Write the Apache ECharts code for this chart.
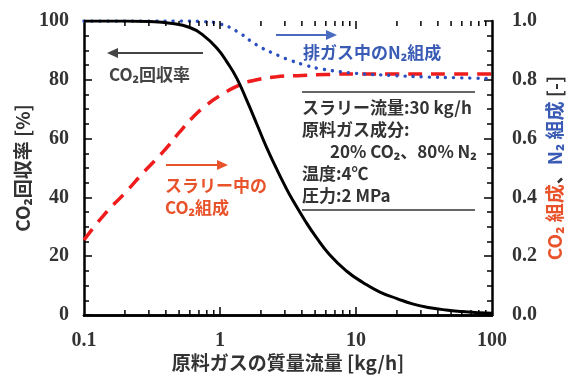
<!DOCTYPE html>
<html><head><meta charset="utf-8">
<script src="https://cdn.jsdelivr.net/npm/echarts@6/dist/echarts.min.js"></script>
<style>html,body{margin:0;padding:0;background:#fff}#c{width:570px;height:375px}</style>
</head><body><div id="c"></div>
<script>
// CO2 recovery [%] (left axis) vs feed gas mass flow [kg/h]
const recoveryX = [0.1, 0.2, 0.3, 0.43, 0.6, 0.75, 0.95, 1.12, 1.33, 1.58, 1.87, 2.2, 2.62, 3.0, 3.43, 4.3, 5.0, 6.4, 8.6, 11.3, 15, 20, 26, 35, 46, 60, 81, 100];
const recoveryY = [100, 100, 99.8, 99.2, 97.8, 95.2, 90.7, 86.2, 80.5, 72.8, 64.8, 57, 49.5, 44, 39, 31.5, 27, 20.5, 14.8, 11, 7.8, 5.6, 3.8, 2.5, 1.7, 1.2, 0.8, 0.6];
// CO2 composition in slurry [-] (right axis)
const slurryX = [0.1, 0.14, 0.2, 0.28, 0.39, 0.5, 0.63, 0.8, 1.05, 1.3, 1.66, 2.6, 4, 6, 10, 20, 50, 100];
const slurryCO2 = [0.255, 0.34, 0.415, 0.49, 0.56, 0.62, 0.672, 0.715, 0.752, 0.776, 0.795, 0.81, 0.815, 0.818, 0.82, 0.82, 0.82, 0.82];
// N2 composition in exhaust gas [-] (right axis)
const gasX = [0.1, 0.3, 0.5, 0.75, 1.0, 1.33, 1.87, 2.76, 3.3, 4.3, 5.7, 10, 18, 31, 55, 100];
const gasN2 = [1.0, 1.0, 1.0, 0.998, 0.99, 0.965, 0.918, 0.88, 0.866, 0.849, 0.836, 0.822, 0.815, 0.81, 0.807, 0.804];
// log x-axis ticks
const xMajorTicks = [1, 10];
const xMinorTicks = [0.2, 0.3, 0.4, 0.5, 0.6, 0.7, 0.8, 0.9, 2, 3, 4, 5, 6, 7, 8, 9, 20, 30, 40, 50, 60, 70, 80, 90];

const JP = '"Noto Sans CJK JP", "Noto Sans", sans-serif';
const SERIF = '"Liberation Serif", "DejaVu Serif", serif';
const RED_TXT = '#e8532b', BLUE_TXT = '#3a5bb5';

const chart = echarts.init(document.getElementById('c'));
const pair = (xs, ys) => xs.map((x, i) => [x, ys[i]]);
const tickData = xMajorTicks.map(v => [v, 0, 1]).concat(xMinorTicks.map(v => [v, 0, 0]));

function arrow(x1, x2, y, color) {
  const dir = x2 > x1 ? 1 : -1;
  return [
    {type: 'line', shape: {x1: x1, y1: y, x2: x2 - dir * 8, y2: y}, style: {stroke: color, lineWidth: 2}},
    {type: 'polygon', shape: {points: [[x2, y], [x2 - dir * 11, y - 5], [x2 - dir * 11, y + 5]]}, style: {fill: color}}
  ];
}
function txt(x, y, text, color, size, align) {
  return {type: 'text', x: x, y: y, style: {text: text, fill: color, font: 'bold ' + size + 'px ' + JP, verticalAlign: 'middle', align: align || 'left'}};
}

const axisLineStyle = {show: true, lineStyle: {color: '#000', width: 2.5}};
const option = {
  animation: false,
  backgroundColor: '#fff',
  grid: {left: 84, right: 78, top: 21, bottom: 60, containLabel: false, outerBoundsMode: 'none'},
  xAxis: [{
    type: 'log', min: 0.1, max: 100, logBase: 10,
    axisLine: axisLineStyle, axisTick: {show: false}, splitLine: {show: false},
    axisLabel: {margin: 16, color: '#333', fontFamily: SERIF, fontWeight: 'bold', fontSize: 20, formatter: v => String(v)},
    name: '原料ガスの質量流量 [kg/h]', nameLocation: 'middle', nameGap: 38, nameMoveOverlap: false,
    nameTextStyle: {fontFamily: JP, fontWeight: 'bold', fontSize: 19, color: '#333'}
  }, {
    type: 'log', min: 0.1, max: 100, position: 'top',
    axisLine: axisLineStyle, axisTick: {show: false}, axisLabel: {show: false}, splitLine: {show: false}
  }],
  yAxis: [{
    type: 'value', min: 0, max: 100, interval: 20, position: 'left',
    axisLine: axisLineStyle,
    axisTick: {show: true, inside: true, length: 8, lineStyle: {color: '#000', width: 1.5}},
    minorTick: {show: true, splitNumber: 4, length: 5, lineStyle: {color: '#000', width: 1.5}},
    splitLine: {show: false},
    axisLabel: {margin: 15, color: '#333', fontFamily: SERIF, fontWeight: 'bold', fontSize: 20},
    name: 'CO₂回収率 [%]', nameLocation: 'middle', nameGap: 52, nameRotate: 90, nameMoveOverlap: false,
    nameTextStyle: {fontFamily: JP, fontWeight: 'bold', fontSize: 19, color: '#333'}
  }, {
    type: 'value', min: 0, max: 1, interval: 0.2, position: 'right',
    axisLine: axisLineStyle,
    axisTick: {show: true, inside: true, length: 8, lineStyle: {color: '#000', width: 1.5}},
    minorTick: {show: true, splitNumber: 4, length: 5, lineStyle: {color: '#000', width: 1.5}},
    splitLine: {show: false},
    axisLabel: {margin: 20, color: '#333', fontFamily: SERIF, fontWeight: 'bold', fontSize: 20, formatter: v => v.toFixed(1)},
    name: '{r|CO₂ 組成}{k|、}{b|N₂ 組成}{k| [-]}', nameLocation: 'middle', nameGap: 53, nameRotate: 90, nameMoveOverlap: false,
    nameTextStyle: {
      fontFamily: JP, fontWeight: 'bold', fontSize: 19,
      rich: {
        r: {color: RED_TXT, fontFamily: JP, fontWeight: 'bold', fontSize: 19},
        b: {color: BLUE_TXT, fontFamily: JP, fontWeight: 'bold', fontSize: 19},
        k: {color: '#333', fontFamily: JP, fontWeight: 'bold', fontSize: 19}
      }
    }
  }],
  series: [{
    type: 'custom', xAxisIndex: 0, yAxisIndex: 0, silent: true, z: 5,
    encode: {x: 0, y: 1},
    data: tickData,
    renderItem: function (params, api) {
      const v = api.value(0);
      const len = api.value(2) ? 8 : 5;
      const b = api.coord([v, 0]);
      const t = api.coord([v, 100]);
      return {type: 'group', children: [
        {type: 'line', shape: {x1: b[0], y1: b[1], x2: b[0], y2: b[1] - len}, style: {stroke: '#000', lineWidth: 1.5}},
        {type: 'line', shape: {x1: t[0], y1: t[1], x2: t[0], y2: t[1] + len}, style: {stroke: '#000', lineWidth: 1.5}}
      ]};
    }
  }, {
    name: 'スラリー中のCO₂組成', type: 'line', yAxisIndex: 1, data: pair(slurryX, slurryCO2),
    showSymbol: false, smooth: 0.5,
    lineStyle: {color: '#ee1c1c', width: 3.5, type: [14, 9]}, z: 2
  }, {
    name: '排ガス中のN₂組成', type: 'line', yAxisIndex: 1, data: pair(gasX, gasN2),
    showSymbol: false, smooth: 0.5,
    lineStyle: {color: '#2b4fbf', width: 3.4, type: [0.1, 8], cap: 'round'}, z: 3
  }, {
    name: 'CO₂回収率', type: 'line', yAxisIndex: 0, data: pair(recoveryX, recoveryY),
    showSymbol: false, smooth: 0.5,
    lineStyle: {color: '#000', width: 3}, z: 4
  }],
  graphic: [].concat(
    arrow(203, 107, 53, '#444'),
    [txt(109, 75, 'CO₂回収率', '#444', 17)],
    arrow(166, 228, 165, RED_TXT),
    [txt(165, 186, 'スラリー中の', RED_TXT, 17), txt(165, 208, 'CO₂組成', RED_TXT, 17)],
    arrow(276, 337, 35, '#4a6cc0'),
    [txt(303, 53, '排ガス中のN₂組成', BLUE_TXT, 17)],
    [
      {type: 'line', shape: {x1: 302, y1: 92, x2: 475, y2: 92}, style: {stroke: '#333', lineWidth: 1.5}},
      txt(302, 108, 'スラリー流量:30 kg/h', '#333', 17),
      txt(302, 130, '原料ガス成分:', '#333', 17),
      txt(330, 152, '20% CO₂、80% N₂', '#333', 17),
      txt(302, 174, '温度:4℃', '#333', 17),
      txt(302, 196, '圧力:2 MPa', '#333', 17),
      {type: 'line', shape: {x1: 302, y1: 210, x2: 475, y2: 210}, style: {stroke: '#333', lineWidth: 1.5}}
    ]
  )
};
chart.setOption(option);
</script>
</body></html>
